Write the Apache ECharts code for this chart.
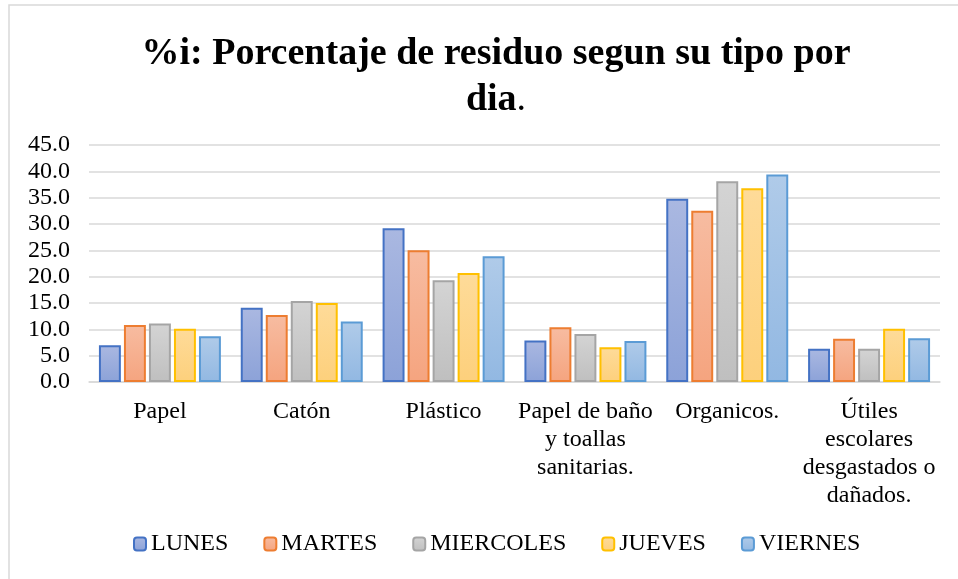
<!DOCTYPE html>
<html>
<head>
<meta charset="utf-8">
<script src="https://cdn.jsdelivr.net/npm/echarts@6/dist/echarts.min.js"></script>
<style>
html,body{margin:0;padding:0;background:#fff;}
#chart{width:958px;height:579px;}
</style>
</head>
<body>
<div id="chart"></div>
<script>
var categories = ['Papel', 'Catón', 'Plástico', 'Papel de baño\ny toallas\nsanitarias.', 'Organicos.', 'Útiles\nescolares\ndesgastados o\ndañados.'];
var seriesNames = ['LUNES', 'MARTES', 'MIERCOLES', 'JUEVES', 'VIERNES'];
var lunes = [7.0, 14.1, 29.2, 7.9, 34.8, 6.3];
var martes = [10.8, 12.7, 25.0, 10.4, 32.5, 8.2];
var miercoles = [11.1, 15.4, 19.3, 9.1, 38.1, 6.3];
var jueves = [10.1, 15.0, 20.7, 6.6, 36.8, 10.1];
var viernes = [8.7, 11.5, 23.9, 7.8, 39.4, 8.3];
var yTicks = [0, 5, 10, 15, 20, 25, 30, 35, 40, 45];

var values = [lunes, martes, miercoles, jueves, viernes];
var borders = ['#4472C4', '#ED7D31', '#A5A5A5', '#FFC000', '#5B9BD5'];
var fillTop = ['#aab8e1', '#f7bca1', '#d4d4d4', '#fedb99', '#b0cbe9'];
var fillBot = ['#8ca2d8', '#f5a47f', '#bfbfbf', '#fdd07c', '#92b8e2'];

var series = seriesNames.map(function (n, i) {
  return {
    name: n,
    type: 'bar',
    data: values[i],
    barGap: '14%',
    barCategoryGap: '14%',
    itemStyle: {
      color: new echarts.graphic.LinearGradient(0, 0, 0, 1, [
        {offset: 0, color: fillTop[i]},
        {offset: 1, color: fillBot[i]}
      ]),
      borderColor: borders[i],
      borderWidth: 2
    }
  };
});

var chart = echarts.init(document.getElementById('chart'), null, {renderer: 'canvas'});
chart.setOption({
  animation: false,
  backgroundColor: '#fff',
  graphic: [{
    type: 'rect',
    shape: {x: 9, y: 5, width: 1000, height: 1000},
    style: {fill: 'none', stroke: '#d9d9d9', lineWidth: 1.5},
    silent: true,
    z: -10
  }],
  title: {
    text: '%i: Porcentaje de residuo segun su tipo por\ndia{n|.}',
    left: 491,
    top: 26,
    textAlign: 'center',
    textStyle: {
      fontFamily: 'Liberation Serif',
      fontWeight: 'bold',
      fontSize: 38,
      color: '#000',
      lineHeight: 46,
      rich: {
        n: {fontFamily: 'Liberation Serif', fontWeight: 'normal', fontSize: 38, color: '#000', lineHeight: 46}
      }
    }
  },
  legend: {
    data: seriesNames,
    bottom: 18,
    left: 128,
    itemWidth: 12,
    itemHeight: 13,
    itemGap: 35,
    textStyle: {fontFamily: 'Liberation Serif', fontSize: 24, color: '#000'}
  },
  grid: {left: 89, right: 18, top: 145, bottom: 197, containLabel: false},
  xAxis: {
    type: 'category',
    data: categories,
    axisLine: {show: true, lineStyle: {color: '#d9d9d9', width: 1.5}},
    axisTick: {show: false},
    axisLabel: {
      interval: 0,
      margin: 16,
      fontFamily: 'Liberation Serif',
      fontSize: 24,
      color: '#000',
      lineHeight: 28,
      align: 'center'
    }
  },
  yAxis: {
    type: 'value',
    min: yTicks[0],
    max: yTicks[yTicks.length - 1],
    interval: 5,
    axisLine: {show: false},
    axisTick: {show: false},
    splitLine: {lineStyle: {color: '#d9d9d9', width: 1.5}},
    axisLabel: {
      margin: 19,
      fontFamily: 'Liberation Serif',
      fontSize: 24,
      color: '#000',
      formatter: function (v) { return v.toFixed(1); }
    }
  },
  series: series
});
</script>
</body>
</html>
